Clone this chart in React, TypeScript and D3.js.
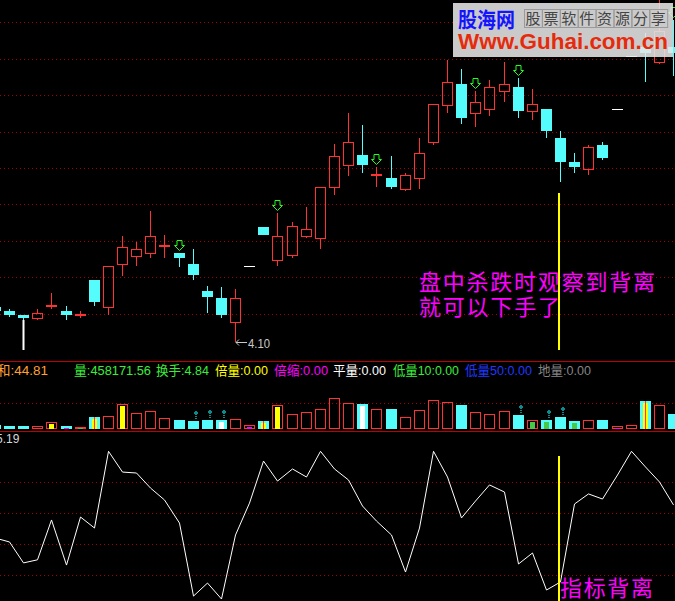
import React, { useEffect, useRef } from 'react';
import * as d3 from 'd3';

const W = 675;
const H = 601;

// bar index, -1 is the half-cut bar on the left edge
const bars = d3.range(-1, 48);

const opens = [4.29, 4.27, 4.25, 4.23, 4.30, 4.27, 4.25, 4.44, 4.29, 4.53, 4.57, 4.59, 4.63, 4.59, 4.53, 4.38, 4.34, 4.21, 4.52, 4.73,
  4.55, 4.58, 4.68, 4.67, 4.95, 5.07, 5.13, 5.02, 5.00, 4.94, 5.00, 5.20, 5.40, 5.52, 5.36, 5.38, 5.48, 5.50, 5.37, 5.38,
  5.22, 5.09, 5.05, 5.18, 5.38, 5.67, 5.72, 5.64, 5.72];
const highs = [4.30, 4.28, 4.25, 4.28, 4.37, 4.30, 4.27, 4.44, 4.52, 4.68, 4.65, 4.82, 4.69, 4.59, 4.61, 4.41, 4.40, 4.39, 4.52, 4.73,
  4.81, 4.76, 4.84, 4.95, 5.19, 5.36, 5.29, 5.06, 5.12, 5.03, 5.22, 5.41, 5.65, 5.60, 5.48, 5.54, 5.64, 5.55, 5.49, 5.38,
  5.26, 5.14, 5.18, 5.20, 5.38, 5.67, 5.80, 6.00, 5.87];
const lows = [4.26, 4.24, 4.22, 4.22, 4.28, 4.22, 4.23, 4.30, 4.25, 4.46, 4.52, 4.56, 4.56, 4.51, 4.44, 4.26, 4.23, 4.10, 4.52, 4.69,
  4.52, 4.56, 4.67, 4.61, 4.91, 5.01, 5.03, 4.95, 4.94, 4.93, 4.94, 5.18, 5.36, 5.30, 5.28, 5.34, 5.42, 5.33, 5.32, 5.22,
  4.98, 5.03, 5.02, 5.10, 5.38, 5.67, 5.53, 5.63, 5.56];
const closes = [4.27, 4.25, 4.23, 4.26, 4.30, 4.25, 4.25, 4.32, 4.52, 4.62, 4.61, 4.68, 4.63, 4.56, 4.47, 4.35, 4.25, 4.34, 4.52, 4.69,
  4.68, 4.74, 4.72, 4.95, 5.12, 5.20, 5.07, 5.02, 4.95, 5.02, 5.14, 5.41, 5.53, 5.33, 5.42, 5.50, 5.52, 5.37, 5.41, 5.26,
  5.09, 5.06, 5.17, 5.11, 5.38, 5.67, 5.69, 5.81, 5.69];
const volumes = [115000, 94000, 94000, 84000, 209000, 84000, 53000, 365000, 415000, 789000, 508000, 570000, 352000, 271000, 240000, 271000, 271000, 321000, 115000, 240000,
  757000, 477000, 539000, 633000, 976000, 820000, 789000, 633000, 614000, 383000, 602000, 913000, 851000, 739000, 539000, 477000, 570000, 427000, 290000, 271000,
  365000, 240000, 290000, 271000, 84000, 115000, 863000, 739000, 458172];
const indicator = [44, 41.5, 28, 30, 55.7, 26.6, 57.6, 50.5, 100, 86.6, 86, 76.3, 68.6, 53.7, 6.6, 15, 4.7, 46, 66.6, 93.7,
  80.8, 88.6, 83.4, 100, 88.6, 81.5, 64.7, 55, 46, 22.1, 50.5, 100, 83.4, 57, 67.9, 78.3, 73.7, 27.3, 34.4, 10.5,
  15.7, 66, 72.5, 69.2, 84.7, 100, 89.9, 80.2, 65.4];

// volume state flags: Y 倍量, YR 倍量+红线, M 倍缩, W 平量, G 低量
const volFlags: Record<number, string> = { 3: 'Y', 4: 'M', 5: 'G', 6: 'YR', 8: 'Y', 15: 'W', 17: 'M', 18: 'YR', 19: 'Y', 25: 'W', 37: 'G', 38: 'G', 40: 'G', 43: 'M', 45: 'YR' };
const volMarks = [13, 14, 15, 36, 38, 39];
const arrowBars = [12, 19, 26, 33, 36, 47];
const signalBar = 39;
const whiteBar = 1;
const signalPrice = 4.92;
const signalInd = 97;

const infoText = ['和:44.81', '量:458171.56', '换手:4.84', '倍量:0.00', '倍缩:0.00', '平量:0.00', '低量10:0.00', '低量50:0.00', '地量:0.00'];
const infoColors = ['#ffa035', '#3cec3c', '#3cec3c', '#ffff00', '#ff00ff', '#ffffff', '#3cec3c', '#2038ff', '#858585'];
const infoX = [-3, 74, 156, 215, 274, 333, 393, 465, 538];
const infoW = [51, 77, 53, 53, 54, 53, 66, 67, 53];

const RED = '#ff3232';
const CYAN = '#54fcfc';
const GRID = '#a80000';
const LINE = '#c00000';
const CJK = "'Noto Sans CJK SC', sans-serif";
const LAT = "'Liberation Sans', Arial, 'Noto Sans CJK SC', sans-serif";

const App: React.FC = () => {
  const ref = useRef<SVGSVGElement>(null);

  useEffect(() => {
    if (!ref.current) return;
    const svg = d3.select(ref.current);
    svg.selectAll('*').remove();

    svg.append('rect').attr('width', W).attr('height', H).attr('fill', '#000');

    const x = d3.scaleLinear().domain([0, 46]).range([9.5, 659.5]);
    const y = d3.scaleLinear().domain([4.10, 6.00]).range([342, 342 - 1.9 * 182]);
    const yVol = d3.scaleLinear().domain([0, 2110000]).range([429, 361.3]);
    const yInd = d3.scaleLinear().domain([0, 100]).range([606.3, 451.3]);

    const leftOf = (b: number) => Math.round(x(b) - 5.5);

    // grids
    const grid = svg.append('g').attr('stroke', GRID).attr('stroke-dasharray', '1,3');
    d3.range(9).forEach(k => {
      const gy = Math.round(22.3 + 36.4 * k) + 0.5;
      grid.append('line').attr('x1', 0).attr('x2', W).attr('y1', gy).attr('y2', gy);
    });
    const vg = Math.round(yVol(800000)) + 0.5;
    grid.append('line').attr('x1', 0).attr('x2', W).attr('y1', vg).attr('y2', vg);
    [20, 40, 60, 80].forEach(v => {
      const gy = Math.round(yInd(v)) + 0.5;
      grid.append('line').attr('x1', 0).attr('x2', W).attr('y1', gy).attr('y2', gy);
    });
    svg.append('line').attr('x1', 0).attr('x2', W).attr('y1', 361.5).attr('y2', 361.5).attr('stroke', LINE);
    svg.append('line').attr('x1', 0).attr('x2', W).attr('y1', 431.5).attr('y2', 431.5).attr('stroke', LINE);

    // candles
    const main = svg.append('g').attr('shape-rendering', 'crispEdges');
    bars.forEach((b, k) => {
      const o = opens[k], hi = highs[k], lo = lows[k], c = closes[k];
      const left = leftOf(b);
      const wx = left + 5.5;
      if (hi === lo) {
        main.append('rect').attr('x', left).attr('y', Math.round(y(c))).attr('width', 11).attr('height', 1).attr('fill', '#fff');
        return;
      }
      const top = Math.round(y(Math.max(o, c)));
      const bot = Math.round(y(Math.min(o, c)));
      if (c >= o) {
        if (bot - top <= 1) {
          main.append('line').attr('x1', wx).attr('x2', wx).attr('y1', y(hi)).attr('y2', y(lo)).attr('stroke', RED);
          main.append('rect').attr('x', left).attr('y', top - 1).attr('width', 11).attr('height', 2).attr('fill', RED);
        } else {
          main.append('line').attr('x1', wx).attr('x2', wx).attr('y1', y(hi)).attr('y2', top).attr('stroke', RED);
          main.append('line').attr('x1', wx).attr('x2', wx).attr('y1', bot).attr('y2', y(lo)).attr('stroke', RED);
          main.append('rect').attr('x', left + 0.5).attr('y', top + 0.5).attr('width', 10).attr('height', bot - top)
            .attr('fill', 'none').attr('stroke', RED);
        }
      } else {
        main.append('line').attr('x1', wx).attr('x2', wx).attr('y1', y(hi)).attr('y2', y(lo)).attr('stroke', CYAN);
        main.append('rect').attr('x', left).attr('y', top).attr('width', 11).attr('height', Math.max(1, bot - top)).attr('fill', CYAN);
      }
    });

    // green down arrows above the high
    arrowBars.forEach(b => {
      const k = bars.indexOf(b);
      const cx = leftOf(b) + 5.5;
      const t = Math.round(y(highs[k])) - 2.5;
      const p = `M${cx - 2.5},${t - 10} L${cx + 2.5},${t - 10} L${cx + 2.5},${t - 5} L${cx + 5},${t - 5} L${cx},${t} L${cx - 5},${t - 5} L${cx - 2.5},${t - 5} Z`;
      svg.append('path').attr('d', p).attr('fill', 'none').attr('stroke', '#22ff22').attr('stroke-width', 1);
    });

    // lowest price label
    const minK = d3.minIndex(lows);
    const lx = leftOf(bars[minK]) + 6;
    const ly = Math.round(y(lows[minK])) + 0.5;
    svg.append('line').attr('x1', lx).attr('x2', lx + 11).attr('y1', ly).attr('y2', ly).attr('stroke', '#c8c8c8');
    svg.append('path').attr('d', `M${lx + 3},${ly - 3} L${lx},${ly} L${lx + 3},${ly + 3}`).attr('fill', 'none').attr('stroke', '#c8c8c8');
    svg.append('text').attr('x', lx + 12).attr('y', ly + 5).attr('fill', '#c8c8c8').attr('font-family', LAT)
      .attr('font-size', 13).attr('textLength', 22).attr('lengthAdjust', 'spacingAndGlyphs').text(lows[minK].toFixed(2));

    // white mark under bar
    const wk = bars.indexOf(whiteBar);
    svg.append('rect').attr('x', leftOf(whiteBar) + 4.5).attr('y', Math.round(y(lows[wk]))).attr('width', 2)
      .attr('height', 350 - Math.round(y(lows[wk]))).attr('fill', '#fff');

    // annotation text
    const note = svg.append('g').attr('fill', '#ff00ff').attr('font-family', CJK).attr('font-size', 22);
    note.append('text').attr('x', 419).attr('y', 290).attr('textLength', 236).attr('lengthAdjust', 'spacing').text('盘中杀跌时观察到背离');
    note.append('text').attr('x', 419).attr('y', 315).attr('textLength', 141).attr('lengthAdjust', 'spacing').text('就可以下手了');

    // signal line
    const sx = leftOf(signalBar) + 3;
    svg.append('rect').attr('x', sx).attr('y', Math.round(y(signalPrice))).attr('width', 2)
      .attr('height', 350 - Math.round(y(signalPrice))).attr('fill', '#ffff00');

    // volume
    const vol = svg.append('g').attr('shape-rendering', 'crispEdges');
    const vb = 429;
    bars.forEach((b, k) => {
      const left = leftOf(b);
      const top = Math.round(yVol(volumes[k]));
      const up = closes[k] >= opens[k];
      if (up) {
        vol.append('rect').attr('x', left + 0.5).attr('y', top + 0.5).attr('width', 10).attr('height', Math.max(1, vb - top - 1))
          .attr('fill', 'none').attr('stroke', RED);
      } else {
        vol.append('rect').attr('x', left).attr('y', top).attr('width', 11).attr('height', vb - top).attr('fill', CYAN);
      }
      const f = volFlags[b];
      if (f) {
        const col = f === 'M' ? '#ff00ff' : f === 'W' ? '#ffffff' : f === 'G' ? '#48c848' : '#ffff00';
        const it = Math.min(top + 1.5, vb - 1.5);
        vol.append('rect').attr('x', left + 3).attr('y', it).attr('width', 5).attr('height', vb - it).attr('fill', col);
        if (f === 'YR') {
          vol.append('rect').attr('x', left + 5).attr('y', top).attr('width', 1).attr('height', vb - top).attr('fill', RED);
        }
      }
    });
    volMarks.forEach(b => {
      const k = bars.indexOf(b);
      const left = leftOf(b);
      const top = Math.round(yVol(volumes[k]));
      vol.append('rect').attr('x', left + 7).attr('y', top - 10).attr('width', 2).attr('height', 4).attr('fill', '#0a8c8c');
      vol.append('rect').attr('x', left + 6).attr('y', top - 9).attr('width', 4).attr('height', 2).attr('fill', '#0a8c8c');
      vol.append('rect').attr('x', left + 7).attr('y', top - 5).attr('width', 2).attr('height', 1).attr('fill', '#0a8c8c');
      vol.append('rect').attr('x', left + 7).attr('y', top - 3).attr('width', 2).attr('height', 1).attr('fill', '#0a8c8c');
    });

    // info row
    infoText.forEach((t, k) => {
      svg.append('text').attr('x', infoX[k]).attr('y', 375).attr('fill', infoColors[k]).attr('font-family', LAT)
        .attr('font-size', 13).attr('textLength', infoW[k]).attr('lengthAdjust', 'spacingAndGlyphs').text(t);
    });

    // indicator
    const line = d3.line<number>().x((_, k) => leftOf(bars[k]) + 5.5).y(v => yInd(v));
    svg.append('path').datum(indicator).attr('d', line).attr('fill', 'none').attr('stroke', '#fff').attr('stroke-width', 1);
    svg.append('text').attr('x', -4).attr('y', 443).attr('fill', '#d8d8d8').attr('font-family', LAT).attr('font-size', 12).text('5.19');

    svg.append('text').attr('x', 560).attr('y', 596).attr('fill', '#ff00ff').attr('font-family', CJK).attr('font-size', 22)
      .attr('textLength', 93).attr('lengthAdjust', 'spacing').text('指标背离');
    svg.append('rect').attr('x', sx).attr('y', Math.round(yInd(signalInd))).attr('width', 2)
      .attr('height', H - Math.round(yInd(signalInd))).attr('fill', '#ffff00');

    // watermark
    const wm = svg.append('g');
    wm.append('rect').attr('x', 453).attr('y', 3).attr('width', 220).attr('height', 54).attr('fill', '#e6e6e6').attr('opacity', 0.88);
    wm.append('text').attr('x', 458).attr('y', 27).attr('fill', '#1414ff').attr('font-family', CJK).attr('font-weight', 'bold')
      .attr('font-size', 21).attr('textLength', 57).attr('lengthAdjust', 'spacingAndGlyphs').text('股海网');
    '股票软件资源分享'.split('').forEach((ch, k) => {
      const cx0 = 524 + k * 17.9;
      wm.append('rect').attr('x', cx0 + 0.5).attr('y', 9.5).attr('width', 17.9).attr('height', 18).attr('fill', 'none').attr('stroke', '#9a9a9a');
      wm.append('text').attr('x', cx0 + 9).attr('y', 24).attr('text-anchor', 'middle').attr('fill', '#444').attr('font-family', CJK)
        .attr('font-size', 15).text(ch);
    });
    wm.append('text').attr('x', 458).attr('y', 49).attr('fill', '#e62a0c').attr('font-family', LAT).attr('font-weight', 'bold')
      .attr('font-size', 22).attr('textLength', 210).attr('lengthAdjust', 'spacingAndGlyphs').text('Www.Guhai.com.cn');
  }, []);

  return <svg ref={ref} width={W} height={H} style={{ position: 'absolute', left: 0, top: 0, display: 'block' }} />;
};

export default App;
